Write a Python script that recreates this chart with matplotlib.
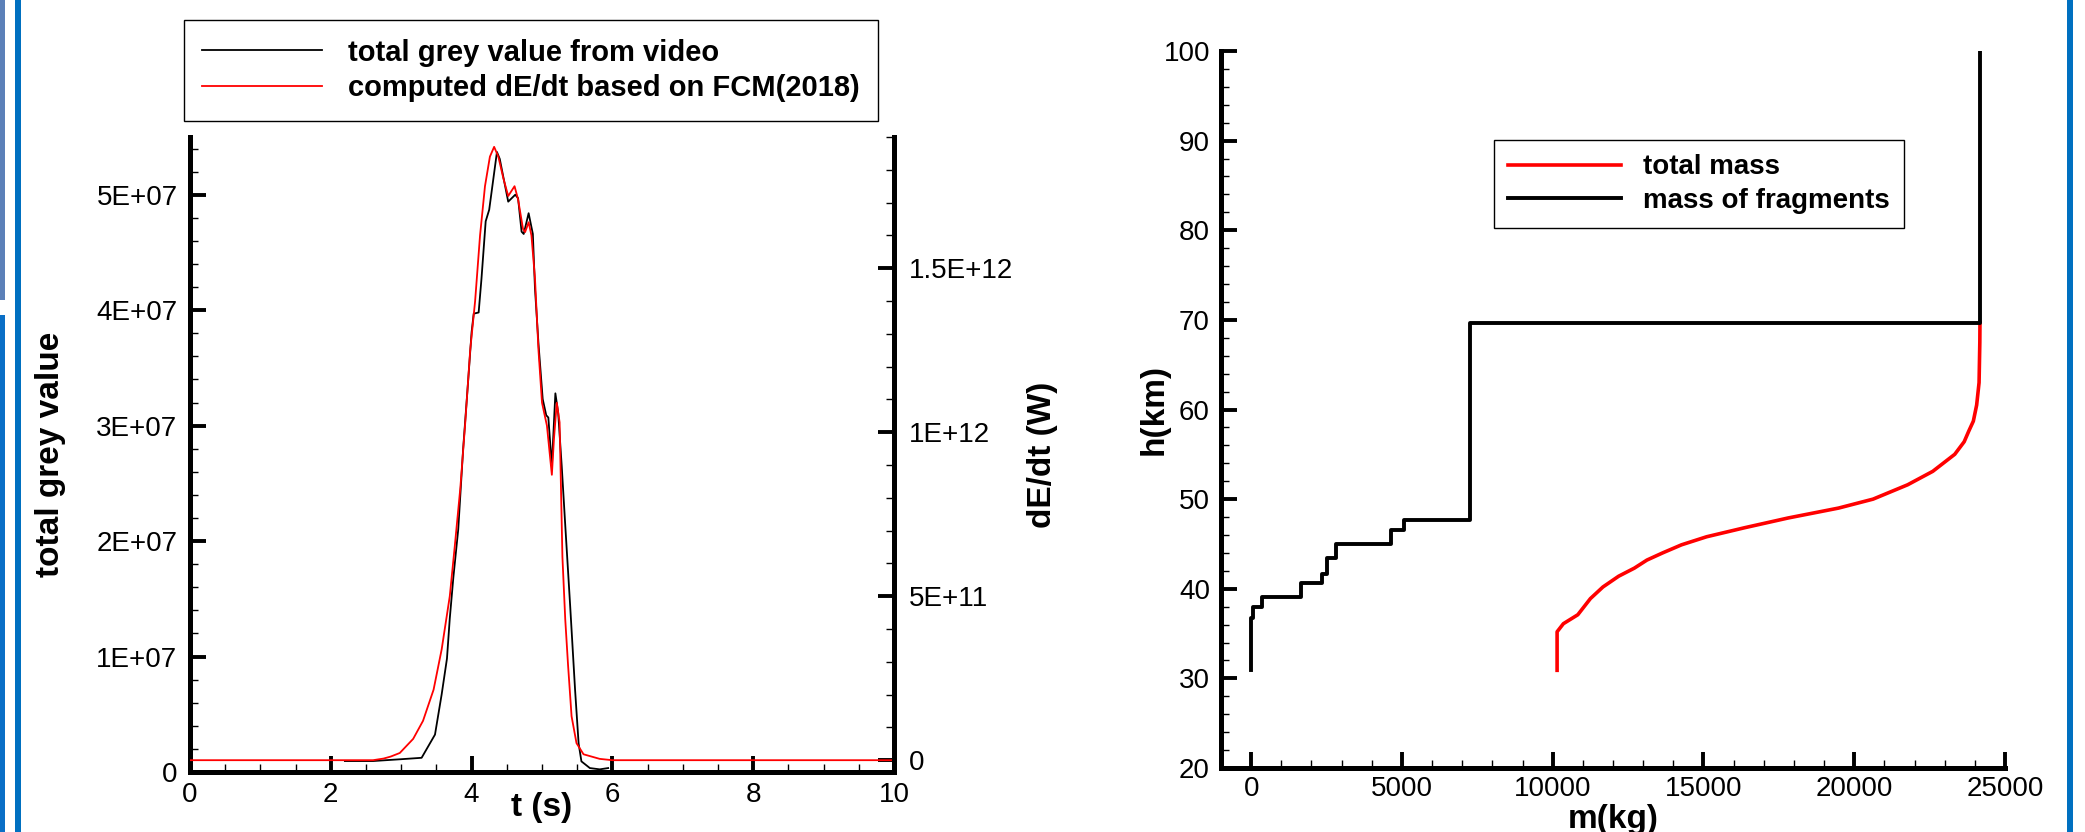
import numpy as np
import matplotlib
matplotlib.use('Agg')
import matplotlib.pyplot as plt
from matplotlib.ticker import MultipleLocator
from matplotlib.patches import Rectangle

plt.rcParams['font.family'] = ['Liberation Sans', 'DejaVu Sans']

# left chart: grey value from video (left axis, units of 1E+07)
t_video = [2.2, 2.6, 2.98, 3.29, 3.48, 3.575, 3.65, 3.69, 3.74, 3.81, 3.88, 3.95, 4.00,
           4.03, 4.10, 4.14, 4.20, 4.25, 4.36, 4.40, 4.52, 4.62, 4.66, 4.71, 4.74, 4.81,
           4.87, 4.90, 4.95, 5.01, 5.06, 5.09, 5.14, 5.17, 5.19, 5.23, 5.28, 5.33, 5.40,
           5.47, 5.52, 5.56, 5.68, 5.82, 5.94]
grey_e7 = [0.095, 0.095, 0.11, 0.123, 0.324, 0.673, 0.982, 1.33, 1.68, 2.10, 2.80, 3.38, 3.81,
           3.97, 3.98, 4.27, 4.77, 4.87, 5.37, 5.31, 4.94, 5.00, 4.97, 4.68, 4.66, 4.84,
           4.66, 4.19, 3.71, 3.23, 3.09, 3.07, 2.65, 3.03, 3.28, 3.11, 2.65, 2.14, 1.44,
           0.71, 0.247, 0.092, 0.034, 0.023, 0.034]

# left chart: computed dE/dt (right axis, units of 1E+12)
t_fcm = [0, 2.6, 2.75, 2.85, 2.98, 3.17, 3.31, 3.46, 3.575, 3.69, 3.76, 3.84, 3.91, 3.98,
         4.05, 4.12, 4.19, 4.26, 4.32, 4.38, 4.45, 4.52, 4.61, 4.66, 4.73, 4.76, 4.81,
         4.85, 4.90, 4.95, 5.00, 5.07, 5.14, 5.17, 5.21, 5.25, 5.29, 5.33, 5.37, 5.42,
         5.49, 5.59, 5.82, 6.0, 10.0]
dedt_e12 = [0, 0, 0.005, 0.011, 0.022, 0.065, 0.12, 0.215, 0.338, 0.50, 0.65, 0.83, 1.03, 1.25,
            1.40, 1.60, 1.75, 1.84, 1.87, 1.84, 1.775, 1.72, 1.75, 1.71, 1.62, 1.61, 1.64,
            1.60, 1.47, 1.25, 1.09, 1.02, 0.87, 0.98, 1.09, 1.03, 0.62, 0.43, 0.29, 0.134,
            0.052, 0.018, 0.004, 0, 0]

# right chart: total mass and mass of fragments vs altitude
total_m = [24170, 24165, 24140, 24060, 23950, 23800, 23646, 23333, 22604, 21771, 20625,
           19479, 17813, 16354, 15104, 14271, 13646, 13125, 12708, 12188, 11667, 11250,
           10833, 10354, 10146, 10146]
total_h = [69.7, 67.5, 63.0, 60.5, 58.7, 57.6, 56.4, 55.0, 53.1, 51.6, 50.0,
           49.0, 47.9, 46.8, 45.8, 44.9, 44.0, 43.2, 42.3, 41.4, 40.2, 38.9,
           37.1, 36.1, 35.2, 30.9]
frag_m = [24170, 24170, 7250, 7250, 5060, 5060, 4650, 4650, 2830, 2830, 2500, 2500,
          2350, 2350, 1667, 1667, 354, 354, 62, 62, 0, 0]
frag_h = [100, 69.7, 69.7, 47.7, 47.7, 46.6, 46.6, 45.0, 45.0, 43.4, 43.4, 41.7,
          41.7, 40.6, 40.6, 39.1, 39.1, 38.0, 38.0, 36.7, 36.7, 30.9]

t_ticks = [0, 2, 4, 6, 8, 10]
grey_ticks = [0, 1e7, 2e7, 3e7, 4e7, 5e7]
grey_labels = ['0', '1E+07', '2E+07', '3E+07', '4E+07', '5E+07']
dedt_ticks = [0, 5e11, 1e12, 1.5e12]
dedt_labels = ['0', '5E+11', '1E+12', '1.5E+12']
m_ticks = [0, 5000, 10000, 15000, 20000, 25000]
h_ticks = [20, 30, 40, 50, 60, 70, 80, 90, 100]

W, H = 2085, 832


def px_axes(left, top, right, bottom):
    return [left / W, 1 - bottom / H, (right - left) / W, (bottom - top) / H]


def tecplot_ticks(ax, axis, **kw):
    ax.tick_params(axis=axis, which='major', direction='in', length=11.5, width=2.8,
                   labelsize=20, **kw)
    ax.tick_params(axis=axis, which='minor', direction='in', length=5.8, width=1.0, **kw)


fig = plt.figure(figsize=(W / 100, H / 100), dpi=100)

# window frame bits from the screenshot
fig.add_artist(Rectangle((0, 1 - 300 / H), 5 / W, 300 / H, transform=fig.transFigure,
                         facecolor='#5b80b8', edgecolor='none'))
fig.add_artist(Rectangle((0, 0), 5 / W, 1 - 315 / H, transform=fig.transFigure,
                         facecolor='#0a6fc6', edgecolor='none'))
fig.add_artist(Rectangle((15 / W, 0), 6 / W, 1, transform=fig.transFigure,
                         facecolor='#0070c0', edgecolor='none'))
fig.add_artist(Rectangle((2067 / W, 0), 6 / W, 1, transform=fig.transFigure,
                         facecolor='#0070c0', edgecolor='none'))

# ---- left chart
ax1 = fig.add_axes(px_axes(190, 137, 894, 772))
ax2 = ax1.twinx()

l_grey, = ax1.plot(t_video, np.array(grey_e7) * 1e7, color='black', lw=1.3)
l_dedt, = ax2.plot(t_fcm, np.array(dedt_e12) * 1e12, color='red', lw=1.3)

ax1.set_xlim(0, 10)
ax1.set_ylim(0, 5.5e7)
ax2.set_ylim(-3.6e10, 1.9e12)

ax1.set_xticks(t_ticks)
ax1.set_xticklabels([str(v) for v in t_ticks])
ax1.xaxis.set_minor_locator(MultipleLocator(0.5))
ax1.set_yticks(grey_ticks)
ax1.set_yticklabels(grey_labels)
ax1.yaxis.set_minor_locator(MultipleLocator(2e6))
ax2.set_yticks(dedt_ticks)
ax2.set_yticklabels(dedt_labels)
ax2.yaxis.set_minor_locator(MultipleLocator(1e11))

tecplot_ticks(ax1, 'x', top=False, pad=7)
tecplot_ticks(ax1, 'y', right=False, pad=9)
tecplot_ticks(ax2, 'y', left=False, pad=11)

for s in ['top', 'right']:
    ax1.spines[s].set_visible(False)
for s in ['top', 'left', 'bottom']:
    ax2.spines[s].set_visible(False)
ax1.spines['left'].set_linewidth(3.6)
ax1.spines['bottom'].set_linewidth(3.6)
ax2.spines['right'].set_linewidth(3.6)

# t (s) sits between the tick labels so it stays inside the picture
ax1.set_xlabel('t (s)', fontsize=24, fontweight='bold')
ax1.xaxis.set_label_coords(0.5, -0.031)
ax1.set_ylabel('total grey value', fontsize=24, fontweight='bold')
ax1.yaxis.set_label_coords(-0.176, 0.5)
ax2.set_ylabel('dE/dt (W)', fontsize=24, fontweight='bold')
ax2.yaxis.set_label_coords(1.189, 0.5)

leg1 = fig.legend([l_grey, l_dedt],
                  ['total grey value from video', 'computed dE/dt based on FCM(2018)'],
                  loc='upper left', bbox_to_anchor=(183.5 / W, 1 - 20 / H),
                  borderaxespad=0, prop={'weight': 'bold', 'size': 21},
                  handlelength=4.1, handletextpad=0.9, borderpad=0.64,
                  labelspacing=0.25, fancybox=False, edgecolor='black', framealpha=1)
leg1.get_frame().set_linewidth(1.0)

# ---- right chart
ax3 = fig.add_axes(px_axes(1221, 51, 2005, 768))
l_total, = ax3.plot(total_m, total_h, color='red', lw=2.6)
l_frag, = ax3.plot(frag_m, frag_h, color='black', lw=2.8)

ax3.set_xlim(-1000, 25000)
ax3.set_ylim(20, 100)
ax3.set_xticks(m_ticks)
ax3.set_xticklabels([str(v) for v in m_ticks])
ax3.xaxis.set_minor_locator(MultipleLocator(1000))
ax3.set_yticks(h_ticks)
ax3.set_yticklabels([str(v) for v in h_ticks])
ax3.yaxis.set_minor_locator(MultipleLocator(2))
tecplot_ticks(ax3, 'x', top=False, pad=6)
tecplot_ticks(ax3, 'y', right=False, pad=8)
for s in ['top', 'right']:
    ax3.spines[s].set_visible(False)
ax3.spines['left'].set_linewidth(3.6)
ax3.spines['bottom'].set_linewidth(3.6)

ax3.set_xlabel('m(kg)', fontsize=24, fontweight='bold')
ax3.xaxis.set_label_coords(0.5, -0.05)
ax3.set_ylabel('h(km)', fontsize=24, fontweight='bold')
ax3.yaxis.set_label_coords(-0.065, 0.5)

leg2 = ax3.legend([l_total, l_frag], ['total mass', 'mass of fragments'],
                  loc='upper left', bbox_to_anchor=(1494 / W, 1 - 140 / H),
                  bbox_transform=fig.transFigure, borderaxespad=0,
                  prop={'weight': 'bold', 'size': 20}, handlelength=4.05,
                  handletextpad=0.8, borderpad=0.52, labelspacing=0.27,
                  fancybox=False, edgecolor='black', framealpha=1)
leg2.get_frame().set_linewidth(1.0)

fig.savefig('out.png', dpi=100)
